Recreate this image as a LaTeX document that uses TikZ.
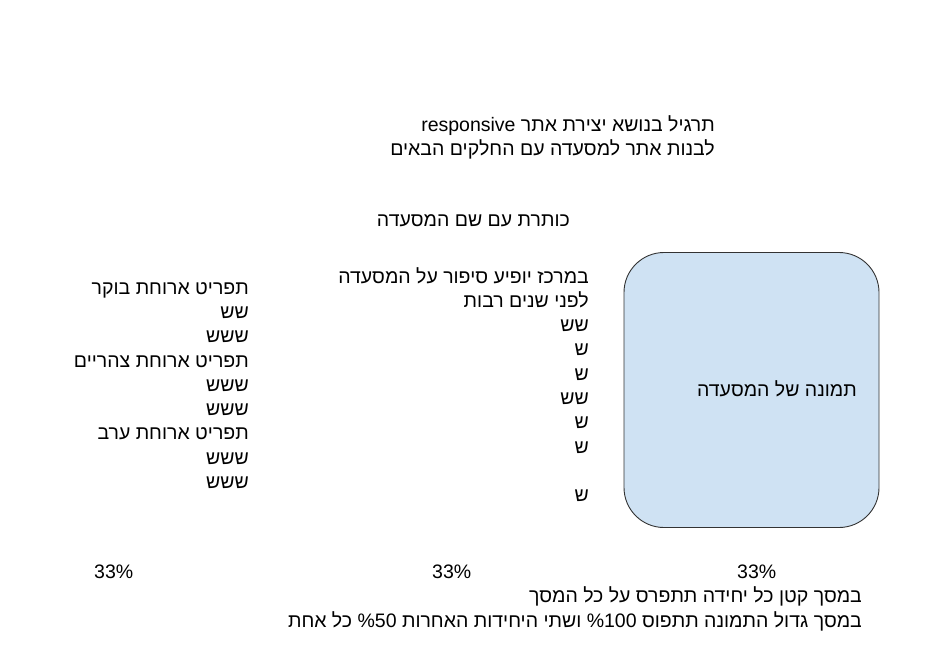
\documentclass[tikz,border=0pt]{standalone}
\usepackage{fontspec}
\TeXXeTstate=1
\newfontfamily\hebfont[Script=Hebrew]{Liberation Sans}
\newcommand\heb[1]{\beginR #1\endR}
\newcommand\pct[1]{\beginL\mbox{\%}\mbox{#1}\endL}
\definecolor{photoblue}{HTML}{CFE2F3}
\begin{document}
\begin{tikzpicture}[x=1pt,y=-1pt,
  txt/.style={font=\hebfont\fontsize{19.5}{24.3}\selectfont, inner sep=0pt, align=right, anchor=base east},
  lat/.style={font=\hebfont\fontsize{19.5}{24.3}\selectfont, inner sep=0pt, anchor=base west},
  photo/.style={draw=black!80, line width=0.9pt, fill=photoblue, rounded corners=40pt, inner sep=0pt}]
\useasboundingbox (0,0) rectangle (952,658);

% base anchor of a multi-line node = baseline of its last line
\node[txt] (title) at (715,155.3) {\heb{תרגיל בנושא יצירת אתר \beginL responsive\endL}\\ \heb{לבנות אתר למסעדה עם החלקים הבאים}};

\node[txt] (header) at (570,226) {\heb{כותרת עם שם המסעדה}};

\node[txt] (story) at (589,501.7) {\heb{במרכז יופיע סיפור על המסעדה}\\ \heb{לפני שנים רבות}\\ \heb{שש}\\ \heb{ש}\\ \heb{ש}\\ \heb{שש}\\ \heb{ש}\\ \heb{ש}\\ \mbox{}\\ \heb{ש}};

\node[txt] (menu) at (249,488.5) {\heb{תפריט ארוחת בוקר}\\ \heb{שש}\\ \heb{ששש}\\ \heb{תפריט ארוחת צהריים}\\ \heb{ששש}\\ \heb{ששש}\\ \heb{תפריט ארוחת ערב}\\ \heb{ששש}\\ \heb{ששש}};

\node[photo, minimum width=255pt, minimum height=275pt] (photo) at (751.5,390) {};
\node[txt] (photolabel) at (857,396) {\heb{תמונה של המסעדה}};

\node[lat] (p1) at (94,578) {33\%};
\node[lat] (p2) at (432,578) {33\%};
\node[lat] (p3) at (737,578) {33\%};

\node[txt] (note) at (862,627) {\heb{במסך קטן כל יחידה תתפרס על כל המסך}\\ \heb{במסך גדול התמונה תתפוס \pct{100} ושתי היחידות האחרות \pct{50} כל אחת}};
\end{tikzpicture}
\end{document}
